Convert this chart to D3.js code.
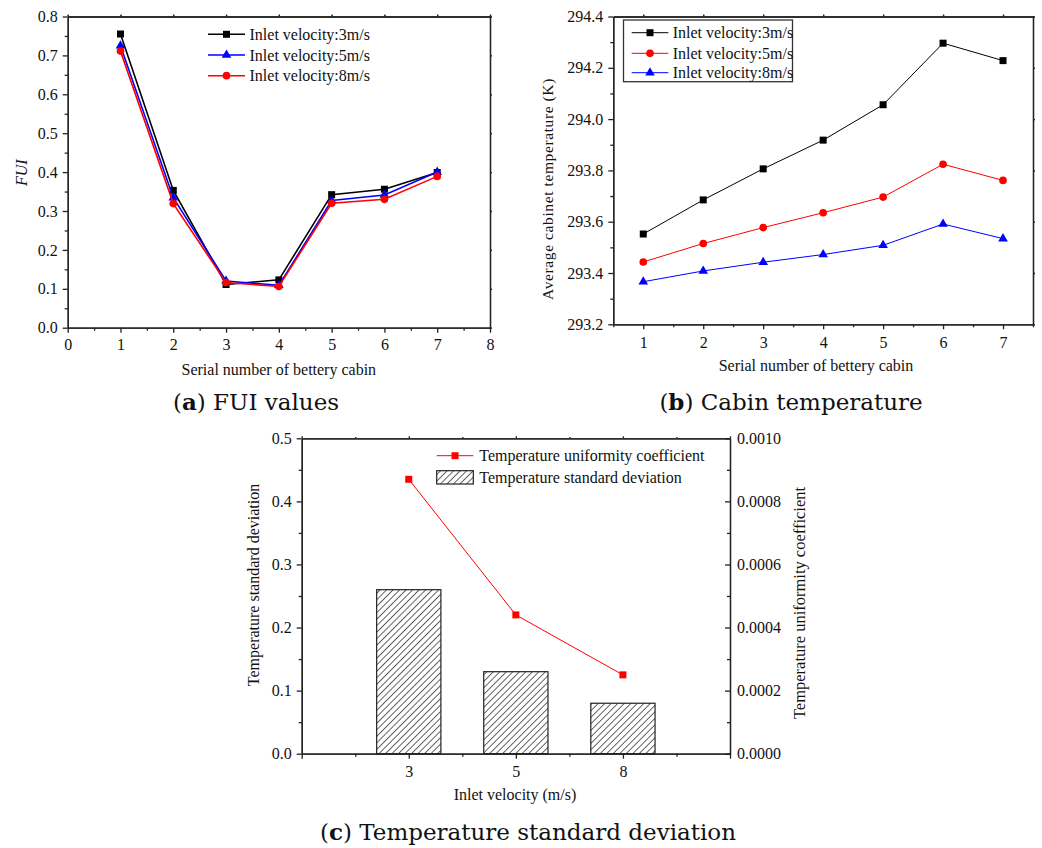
<!DOCTYPE html>
<html>
<head>
<meta charset="utf-8">
<script src="https://cdn.jsdelivr.net/npm/d3@7"></script>
<style>
body { margin: 0; background: #fff; }
svg text { font-family: "Liberation Serif", "Times New Roman", serif; fill: #111; }
.axis path, .axis line { stroke: #222; stroke-width: 1.3; }
.caption { font-family: "DejaVu Serif", serif !important; font-size: 23px; }
</style>
</head>
<body>
<div id="chart"></div>
<script>
// data
var cabins = [1, 2, 3, 4, 5, 6, 7];

// (a) FUI
var fui3 = [0.755, 0.353, 0.111, 0.123, 0.342, 0.356, 0.399];
var fui5 = [0.725, 0.334, 0.120, 0.109, 0.327, 0.341, 0.400];
var fui8 = [0.711, 0.319, 0.116, 0.106, 0.320, 0.330, 0.389];

// (b) average cabinet temperature (K)
var temp3 = [293.552, 293.685, 293.806, 293.918, 294.056, 294.296, 294.228];
var temp5 = [293.443, 293.515, 293.577, 293.635, 293.696, 293.824, 293.761];
var temp8 = [293.366, 293.408, 293.442, 293.472, 293.508, 293.591, 293.534];

// (c) by inlet velocity
var velocities = ["3", "5", "8"];
var stdDev = [0.26, 0.13, 0.08];
var uniformity = [0.00087, 0.00044, 0.00025];

var svg = d3.select("#chart")
    .append("svg")
    .attr("width", 1042)
    .attr("height", 848);

svg.append("rect").attr("width", 1042).attr("height", 848).attr("fill", "#fff");

// hatch for the bars
svg.append("defs").append("pattern")
    .attr("id", "hatch")
    .attr("patternUnits", "userSpaceOnUse")
    .attr("width", 4.6)
    .attr("height", 4.6)
    .attr("patternTransform", "rotate(45)")
    .call(function (p) {
        p.append("rect").attr("width", 4.6).attr("height", 4.6).attr("fill", "#fff");
        p.append("line").attr("x1", 0).attr("y1", 0).attr("x2", 0).attr("y2", 4.6)
            .attr("stroke", "#222").attr("stroke-width", 1.4);
    });

function range(a, b, step) {
    var out = [];
    for (var v = a; v <= b + 1e-9; v += step) out.push(+v.toFixed(6));
    return out;
}

// major + minor ticks on one side
function addAxis(maker, scale, major, minor, fmt, translate, size, pad) {
    var g = svg.append("g").attr("transform", translate);
    g.append("g").attr("class", "axis")
        .call(maker(scale).tickValues(minor).tickSize(size * 0.6).tickSizeOuter(0).tickFormat(""));
    g.append("g").attr("class", "axis")
        .call(maker(scale).tickValues(major).tickSize(size).tickSizeOuter(0).tickPadding(pad).tickFormat(fmt));
    g.selectAll("text")
        .attr("font-family", "Liberation Serif, serif")
        .attr("font-size", "16px")
        .attr("fill", "#111");
    return g;
}

function frame(x, y, xMajor, yMajor) {
    // top and right borders with tiny ticks
    addAxis(d3.axisTop, x, xMajor, xMajor, "", `translate(0,${y.range()[1]})`, 2, 0);
    addAxis(d3.axisRight, y, yMajor, yMajor, "", `translate(${x.range()[1]},0)`, 2, 0);
}

function marker(type, size) {
    return d3.symbol().type(type).size(size)();
}

function series(xs, ys, vals, color, type, size, lw) {
    var line = d3.line().x((d, i) => xs(cabins[i])).y(d => ys(d));
    svg.append("path")
        .datum(vals)
        .attr("d", line)
        .attr("fill", "none")
        .attr("stroke", color)
        .attr("stroke-width", lw);
    svg.selectAll(null)
        .data(vals)
        .enter()
        .append("path")
        .attr("d", marker(type, size))
        .attr("transform", (d, i) => `translate(${xs(cabins[i])},${ys(d)})`)
        .attr("fill", color);
}

function legendRow(x1, x2, y, textX, color, type, size, lw, label) {
    svg.append("line").attr("x1", x1).attr("x2", x2).attr("y1", y).attr("y2", y)
        .attr("stroke", color).attr("stroke-width", lw);
    svg.append("path").attr("d", marker(type, size))
        .attr("transform", `translate(${(x1 + x2) / 2},${y})`).attr("fill", color);
    svg.append("text").attr("x", textX).attr("y", y + 5.5)
        .attr("font-size", "16px").text(label);
}

function caption(x, y, letter, rest) {
    var t = svg.append("text").attr("class", "caption")
        .attr("x", x).attr("y", y).attr("text-anchor", "middle");
    t.append("tspan").text("(");
    t.append("tspan").attr("font-weight", "bold").text(letter);
    t.append("tspan").text(") " + rest);
}

// ---------- (a) FUI values ----------
var xA = d3.scaleLinear().domain([0, 8]).range([67.7, 490]);
var yA = d3.scaleLinear().domain([0, 0.8]).range([327.7, 16.5]);

addAxis(d3.axisBottom, xA, range(0, 8, 1), range(0.5, 7.5, 1), d3.format("d"), `translate(0,${yA(0)})`, 5, 6);
addAxis(d3.axisLeft, yA, range(0, 0.8, 0.1), range(0.05, 0.75, 0.1), d3.format(".1f"), `translate(${xA(0)},0)`, 5, 5);
frame(xA, yA, range(0, 8, 1), range(0, 0.8, 0.1));

series(xA, yA, fui3, "#000", d3.symbolSquare, 49, 1.6);
series(xA, yA, fui5, "#0000ff", d3.symbolTriangle, 40, 1.6);
series(xA, yA, fui8, "#ff0000", d3.symbolCircle, 46, 1.6);

legendRow(208, 245, 34.3, 249.5, "#000", d3.symbolSquare, 49, 1.6, "Inlet velocity:3m/s");
legendRow(208, 245, 55, 249.5, "#0000ff", d3.symbolTriangle, 40, 1.6, "Inlet velocity:5m/s");
legendRow(208, 245, 75.7, 249.5, "#ff0000", d3.symbolCircle, 46, 1.6, "Inlet velocity:8m/s");

svg.append("text")
    .attr("transform", "translate(26.5,172.7) rotate(-90)")
    .attr("text-anchor", "middle")
    .attr("font-size", "16px")
    .attr("font-style", "italic")
    .text("FUI");

svg.append("text")
    .attr("x", 278.8).attr("y", 375)
    .attr("text-anchor", "middle")
    .attr("font-size", "16px")
    .text("Serial number of bettery cabin");

caption(256, 410, "a", "FUI values");

// ---------- (b) Cabin temperature ----------
var xB = d3.scaleLinear().domain([0.5, 7.5]).range([613.3, 1033]);
var yB = d3.scaleLinear().domain([293.2, 294.4]).range([324.3, 16.5]);

addAxis(d3.axisBottom, xB, range(1, 7, 1), range(0.5, 7.5, 1), d3.format("d"), `translate(0,${yB(293.2)})`, 5, 7);
addAxis(d3.axisLeft, yB, range(293.2, 294.4, 0.2), range(293.3, 294.3, 0.2), d3.format(".1f"), `translate(${xB(0.5)},0)`, 5, 5);
frame(xB, yB, range(1, 7, 1), range(293.2, 294.4, 0.2));

series(xB, yB, temp3, "#000", d3.symbolSquare, 49, 1);
series(xB, yB, temp5, "#ff0000", d3.symbolCircle, 46, 1);
series(xB, yB, temp8, "#0000ff", d3.symbolTriangle, 40, 1);

svg.append("rect")
    .attr("x", 623.5).attr("y", 20).attr("width", 169).attr("height", 61.7)
    .attr("fill", "#fff").attr("stroke", "#333").attr("stroke-width", 1.3);
legendRow(631.7, 668.3, 32.7, 672.7, "#000", d3.symbolSquare, 49, 1, "Inlet velocity:3m/s");
legendRow(631.7, 668.3, 53.3, 672.7, "#ff0000", d3.symbolCircle, 46, 1, "Inlet velocity:5m/s");
legendRow(631.7, 668.3, 72.7, 672.7, "#0000ff", d3.symbolTriangle, 40, 1, "Inlet velocity:8m/s");

svg.append("text")
    .attr("transform", "translate(553,189) rotate(-90)")
    .attr("text-anchor", "middle")
    .attr("font-size", "15.5px")
    .attr("letter-spacing", "0.6px")
    .text("Average cabinet temperature (K)");

svg.append("text")
    .attr("x", 816).attr("y", 371)
    .attr("text-anchor", "middle")
    .attr("font-size", "16px")
    .text("Serial number of bettery cabin");

caption(791, 410, "b", "Cabin temperature");

// ---------- (c) Temperature standard deviation ----------
var xC = d3.scaleLinear().domain([0, 4]).range([301.7, 730]);
var yC = d3.scaleLinear().domain([0, 0.5]).range([753.7, 438.3]);
var yC2 = d3.scaleLinear().domain([0, 0.001]).range([753.7, 438.3]);

svg.selectAll(".bar")
    .data(stdDev)
    .enter()
    .append("rect")
    .attr("class", "bar")
    .attr("x", (d, i) => xC(i + 1 - 0.3))
    .attr("width", xC(0.6) - xC(0))
    .attr("y", d => yC(d))
    .attr("height", d => yC(0) - yC(d))
    .attr("fill", "url(#hatch)")
    .attr("stroke", "#222")
    .attr("stroke-width", 1.2);

addAxis(d3.axisBottom, xC, range(0, 4, 1), range(0.5, 3.5, 1),
    d => (d >= 1 && d <= 3 ? velocities[d - 1] : ""), `translate(0,${yC(0)})`, 5, 7);
addAxis(d3.axisLeft, yC, range(0, 0.5, 0.1), range(0.05, 0.45, 0.1), d3.format(".1f"), `translate(${xC(0)},0)`, 5, 5);
addAxis(d3.axisRight, yC2, range(0, 0.001, 0.0002), range(0.0001, 0.0009, 0.0002), d3.format(".4f"), `translate(${xC(4)},0)`, -5, 7);
addAxis(d3.axisTop, xC, range(0, 4, 1), range(0.5, 3.5, 1), "", `translate(0,${yC(0.5)})`, 2, 0);

var lineC = d3.line().x((d, i) => xC(i + 1)).y(d => yC2(d));
svg.append("path")
    .datum(uniformity)
    .attr("d", lineC)
    .attr("fill", "none")
    .attr("stroke", "#ff0000")
    .attr("stroke-width", 1);
svg.selectAll(".coef")
    .data(uniformity)
    .enter()
    .append("path")
    .attr("class", "coef")
    .attr("d", marker(d3.symbolSquare, 49))
    .attr("transform", (d, i) => `translate(${xC(i + 1)},${yC2(d)})`)
    .attr("fill", "#ff0000");

legendRow(436.7, 473.3, 455.7, 479.3, "#ff0000", d3.symbolSquare, 49, 1, "Temperature uniformity coefficient");
svg.append("rect")
    .attr("x", 436.7).attr("y", 470.7).attr("width", 36.6).attr("height", 13.3)
    .attr("fill", "url(#hatch)").attr("stroke", "#222").attr("stroke-width", 1.2);
svg.append("text").attr("x", 479.3).attr("y", 483)
    .attr("font-size", "16px").text("Temperature standard deviation");

svg.append("text")
    .attr("transform", "translate(259,585) rotate(-90)")
    .attr("text-anchor", "middle")
    .attr("font-size", "16px")
    .text("Temperature standard deviation");

svg.append("text")
    .attr("transform", "translate(805,603) rotate(-90)")
    .attr("text-anchor", "middle")
    .attr("font-size", "16.5px")
    .text("Temperature uniformity coefficient");

svg.append("text")
    .attr("x", 515).attr("y", 800)
    .attr("text-anchor", "middle")
    .attr("font-size", "16px")
    .text("Inlet velocity (m/s)");

caption(528, 840, "c", "Temperature standard deviation");
</script>
</body>
</html>
